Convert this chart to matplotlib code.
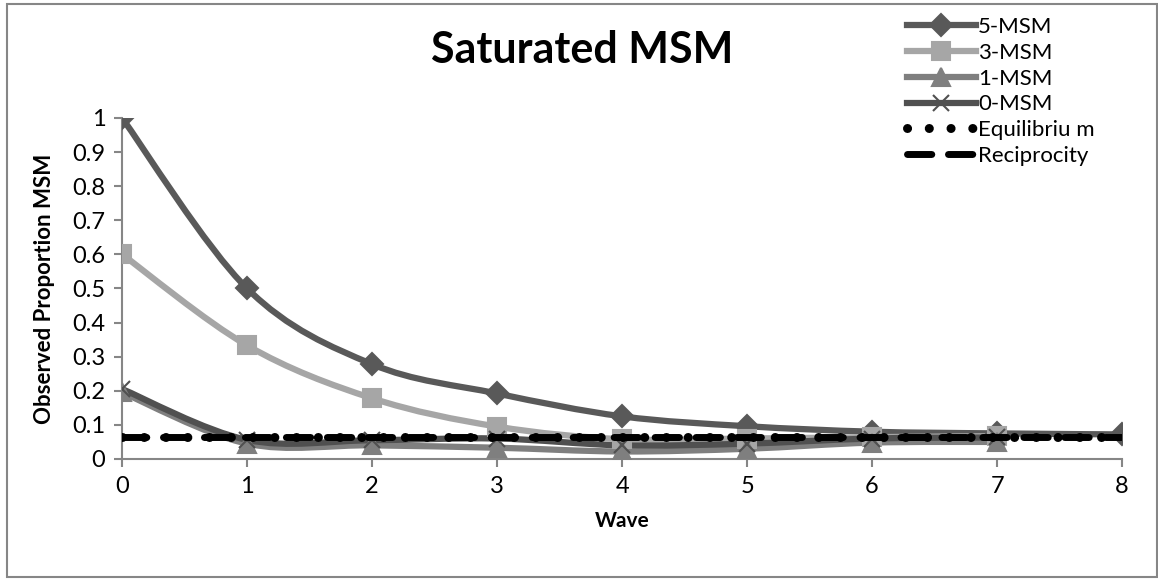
import numpy as np
import matplotlib
matplotlib.use("Agg")
import matplotlib.pyplot as plt
from matplotlib.path import Path
from matplotlib.patches import PathPatch, Rectangle
from matplotlib.lines import Line2D

plt.rcParams['font.family'] = ['Lato', 'DejaVu Sans']

# data
waves = [0, 1, 2, 3, 4, 5, 6, 7, 8]
msm5 = [1.0, 0.5, 0.278, 0.192, 0.125, 0.096, 0.080, 0.075, 0.072]
msm3 = [0.6, 0.333, 0.178, 0.095, 0.058, 0.060, 0.064, 0.067]
msm1 = [0.195, 0.045, 0.040, 0.033, 0.022, 0.030, 0.048, 0.050]
msm0 = [0.205, 0.056, 0.055, 0.060, 0.040, 0.045, 0.060, 0.063]
equilibrium = [0.063] * 9
reciprocity = [0.063] * 9


def smooth_path(x, y):
    # Excel-style smoothed line: cubic bezier through the points
    x = np.asarray(x, float)
    y = np.asarray(y, float)
    verts = [(x[0], y[0])]
    codes = [Path.MOVETO]
    n = len(x)
    for i in range(n - 1):
        x0, y0 = (x[i - 1], y[i - 1]) if i > 0 else (x[i], y[i])
        x3, y3 = (x[i + 2], y[i + 2]) if i + 2 < n else (x[i + 1], y[i + 1])
        c1 = (x[i] + (x[i + 1] - x0) / 6, y[i] + (y[i + 1] - y0) / 6)
        c2 = (x[i + 1] - (x3 - x[i]) / 6, y[i + 1] - (y3 - y[i]) / 6)
        verts += [c1, c2, (x[i + 1], y[i + 1])]
        codes += [Path.CURVE4] * 3
    return Path(verts, codes)


fig = plt.figure(figsize=(11.58, 5.79), dpi=100)
ax = fig.add_axes([0.1054, 0.2073, 0.8636, 0.589])

series = [
    ("5-MSM", msm5, "#595959", "D", 11),
    ("3-MSM", msm3, "#A6A6A6", "s", 13),
    ("1-MSM", msm1, "#7F7F7F", "^", 13),
    ("0-MSM", msm0, "#505050", "x", 12),
]
handles = []
for name, vals, col, mk, ms in series:
    xs = waves[:len(vals)]
    ax.add_patch(PathPatch(smooth_path(xs, vals), fill=False, edgecolor=col,
                           lw=4.5, capstyle='round', zorder=2))
    ax.plot(xs, vals, linestyle='none', marker=mk, color=col, ms=ms,
            mew=1.5, zorder=3)
    handles.append(Line2D([], [], color=col, lw=4.5, marker=mk, ms=ms, mew=1.5,
                          label=name))

ax.plot(waves, equilibrium, color='black', lw=6.5, linestyle=(0, (0.01, 2.4)),
        dash_capstyle='round', zorder=4)
ax.plot(waves, reciprocity, color='black', lw=5, linestyle=(0, (3.5, 2.4)),
        dash_capstyle='round', zorder=4)
handles.append(Line2D([], [], color='black', lw=6.5, linestyle=(0, (0.01, 2.4)),
                      dash_capstyle='round', label='Equilibriu m'))
handles.append(Line2D([], [], color='black', lw=5, linestyle=(0, (3.5, 2.4)),
                      dash_capstyle='round', label='Reciprocity'))

ax.set_xlim(0, 8)
ax.set_ylim(0, 1)
ax.set_xticks(waves)
ax.set_yticks(np.arange(0, 1.01, 0.1))
ax.set_yticklabels(['0', '0.1', '0.2', '0.3', '0.4', '0.5', '0.6', '0.7',
                    '0.8', '0.9', '1'])
ax.tick_params(direction='out', length=6, width=1.5, color='#868686',
               labelsize=17, pad=6)
for s in ['top', 'right']:
    ax.spines[s].set_visible(False)
for s in ['left', 'bottom']:
    ax.spines[s].set_color('#868686')
    ax.spines[s].set_linewidth(1.5)
ax.margins(0)

ax.set_xlabel("Wave", fontsize=15, fontweight='bold', labelpad=10)
ax.set_ylabel("Observed Proportion MSM", fontsize=16, fontweight='bold',
              labelpad=12)
fig.text(0.503, 0.914, "Saturated MSM", fontsize=31, fontweight='bold',
         ha='center', va='center')

fig.legend(handles=handles, loc='upper left', bbox_to_anchor=(0.766, 1.005),
           frameon=False, fontsize=16, handlelength=3.1, handletextpad=0.1,
           labelspacing=0.26)

fig.patches.append(Rectangle((0.006, 0.003), 0.993, 0.99, transform=fig.transFigure,
                             fill=False, edgecolor='#868686', lw=1.5))

fig.savefig("out.png", dpi=100)
